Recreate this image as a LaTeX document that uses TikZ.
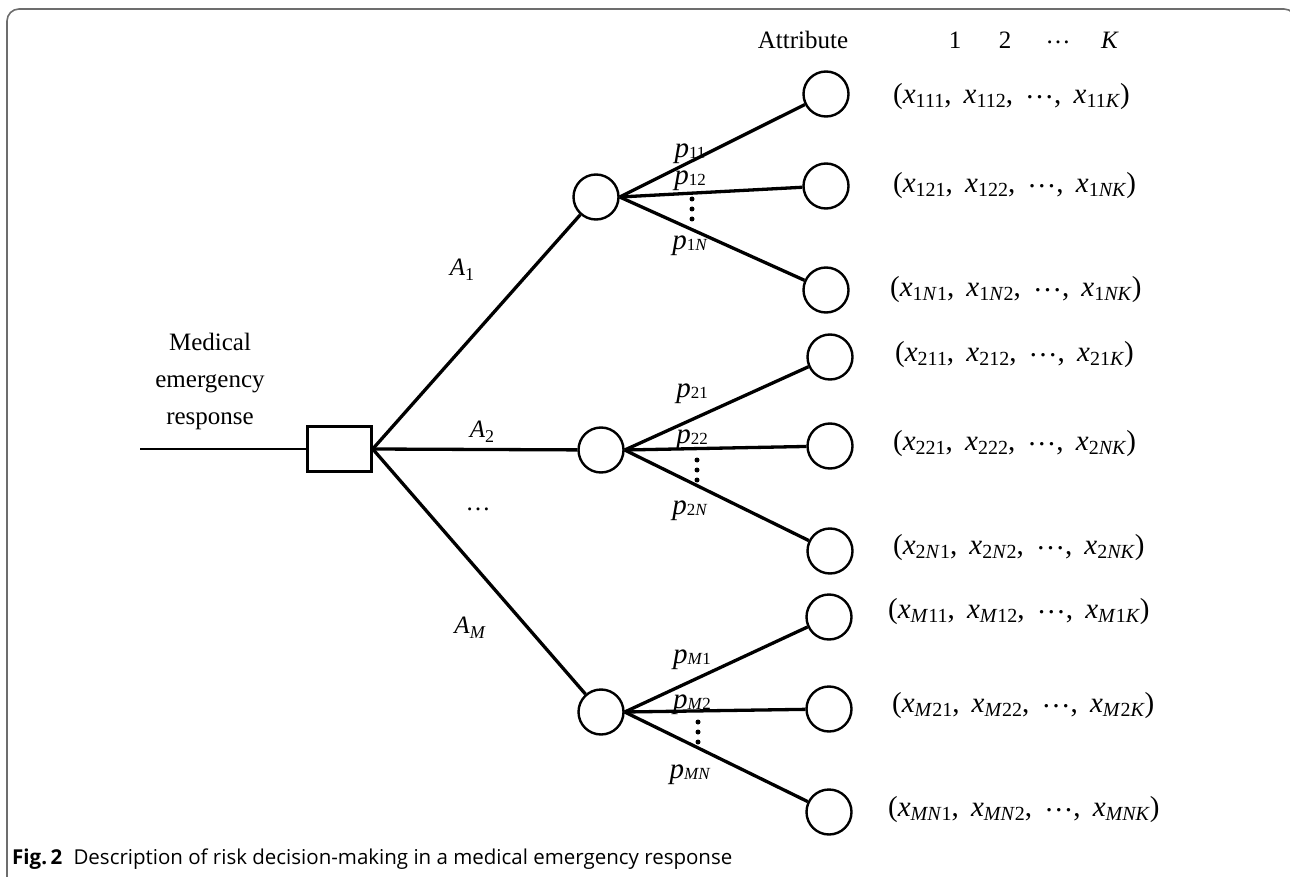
\documentclass[tikz,border=0pt]{standalone}
\usepackage{fontspec}
\setmainfont{Liberation Serif}
\newfontfamily\capfont{Open Sans}
\newcommand\xs[1]{\textit{x}\raisebox{-4pt}{\fontsize{20}{20}\selectfont #1}}
\newcommand\ps[1]{\textit{p}\raisebox{-1pt}{\fontsize{17}{17}\selectfont #1}}
\newcommand\As[1]{\textit{A}\raisebox{-5pt}{\fontsize{18}{18}\selectfont #1}}
\newcommand\mydots{\raisebox{0.2em}{…}}
\newcommand\sep{,\hspace{0.42em}}
\definecolor{framegray}{HTML}{6D6D6D}
\begin{document}
\begin{tikzpicture}[x=1pt,y=-1pt,
  chance/.style={circle, draw, line width=2.4pt, minimum size=45pt, inner sep=0pt},
  decision/.style={rectangle, draw, line width=2.4pt, minimum width=64pt, minimum height=45pt, inner sep=0pt},
  branch/.style={line width=3.3pt},
  lbl/.style={font=\fontsize{25}{37}\selectfont, inner sep=0pt},
  plbl/.style={font=\fontsize{29}{30}\selectfont, inner sep=0pt},
  tup/.style={font=\fontsize{29}{30}\selectfont, inner sep=0pt, anchor=west},
  vdot/.style={circle, fill, inner sep=0pt, minimum size=5pt}]
\useasboundingbox (0,0) rectangle (1290,877);
\draw[framegray, line width=1.6pt, rounded corners=12pt] (7,930) -- (7,9) -- (1296,9) -- (1296,930);

% nodes
\coordinate (start) at (140,449);
\node[decision] (D) at (339.5,449) {};
\node[chance] (C1) at (596,197) {};
\node[chance] (C2) at (601,450) {};
\node[chance] (CM) at (601,712) {};
\node[chance] (T11) at (826,94) {};
\node[chance] (T12) at (826,186) {};
\node[chance] (T13) at (826,290) {};
\node[chance] (T21) at (830,357) {};
\node[chance] (T22) at (830,446) {};
\node[chance] (T23) at (830,551) {};
\node[chance] (TM1) at (829,617) {};
\node[chance] (TM2) at (829,709) {};
\node[chance] (TM3) at (829,812) {};

% connectors
\draw[line width=2.2pt] (start) -- (D.west);
\draw[branch] (D.east) -- (C1);
\draw[branch] (D.east) -- (C2);
\draw[branch] (D.east) -- (CM);
\foreach \c/\t in {C1/T11,C1/T12,C1/T13,C2/T21,C2/T22,C2/T23,CM/TM1,CM/TM2,CM/TM3}
  \draw[branch] (\c.east) -- (\t);

% vertical dots
\foreach \x/\y in {692/199,692/209,692/219,697/460,697/470,697/480,698/722,698/732,698/742}
  \node[vdot] at (\x,\y) {};

% header
\node[lbl] (attr) at (803,40) {Attribute};
\node[lbl] (h1) at (955,40) {1};
\node[lbl] (h2) at (1005,40) {2};
\node[lbl] (hd) at (1058,45) {\mydots};
\node[lbl] (hK) at (1110,40) {\textit{K}};

% root label
\node[lbl, align=center] (root) at (210,381) {Medical\\emergency\\response};

% action labels
\node[lbl] (a1) at (462,270) {\As{1}};
\node[lbl] (a2) at (482,432) {\As{2}};
\node[lbl] (ad) at (478,512) {\mydots};
\node[lbl] (am) at (470,628) {\As{\textit{M}}};

% probability labels
\node[plbl] (p11) at (690,154) {\ps{11}};
\node[plbl] (p12) at (690,181) {\ps{12}};
\node[plbl] (p1n) at (690,246) {\ps{1\textit{N}}};
\node[plbl] (p21) at (692,394) {\ps{21}};
\node[plbl] (p22) at (692,440) {\ps{22}};
\node[plbl] (p2n) at (690,511) {\ps{2\textit{N}}};
\node[plbl] (pm1) at (692,660) {\ps{\textit{M}1}};
\node[plbl] (pm2) at (692,705) {\ps{\textit{M}2}};
\node[plbl] (pmn) at (690,775) {\ps{\textit{MN}}};

% outcome tuples
\node[tup] (o11) at (893,97) {(\xs{111}\sep\xs{112}\sep\mydots\sep\xs{11\textit{K}})};
\node[tup] (o12) at (893,186) {(\xs{121}\sep\xs{122}\sep\mydots\sep\xs{1\textit{NK}})};
\node[tup] (o13) at (890,290) {(\xs{1\textit{N}1}\sep\xs{1\textit{N}2}\sep\mydots\sep\xs{1\textit{NK}})};
\node[tup] (o21) at (895,355) {(\xs{211}\sep\xs{212}\sep\mydots\sep\xs{21\textit{K}})};
\node[tup] (o22) at (893,444) {(\xs{221}\sep\xs{222}\sep\mydots\sep\xs{2\textit{NK}})};
\node[tup] (o23) at (893,548) {(\xs{2\textit{N}1}\sep\xs{2\textit{N}2}\sep\mydots\sep\xs{2\textit{NK}})};
\node[tup] (om1) at (888,612) {(\xs{\textit{M}11}\sep\xs{\textit{M}12}\sep\mydots\sep\xs{\textit{M}1\textit{K}})};
\node[tup] (om2) at (892,706) {(\xs{\textit{M}21}\sep\xs{\textit{M}22}\sep\mydots\sep\xs{\textit{M}2\textit{K}})};
\node[tup] (om3) at (888,810) {(\xs{\textit{MN}1}\sep\xs{\textit{MN}2}\sep\mydots\sep\xs{\textit{MNK}})};

% caption
\node[anchor=west, inner sep=0pt, font=\capfont\fontsize{20.5}{22}\selectfont] (cap) at (12,859)
  {\textbf{Fig.\,2}\hspace{0.55em}Description of risk decision-making in a medical emergency response};
\end{tikzpicture}
\end{document}
